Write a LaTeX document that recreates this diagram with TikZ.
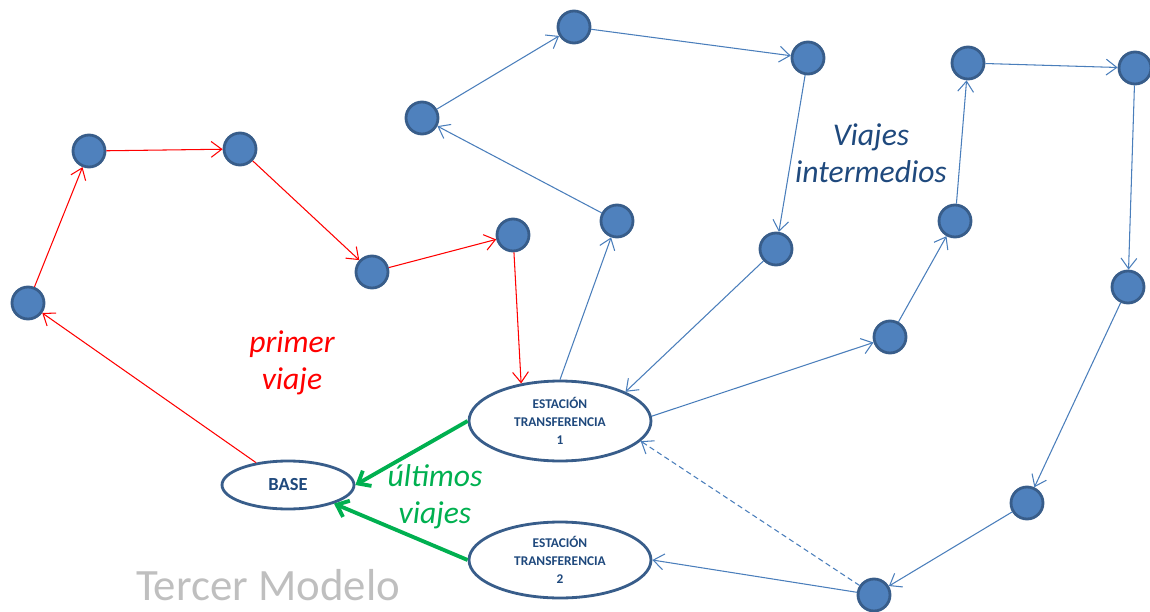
\documentclass[tikz,border=0pt]{standalone}
\usepackage{fontspec}
\setmainfont{Carlito}
\usepackage{xcolor}
\usepackage{tikz}
\usetikzlibrary{arrows.meta, shapes.geometric}
\definecolor{nodoazul}{RGB}{79,129,189}
\definecolor{bordeazul}{RGB}{56,93,138}
\definecolor{lineaazul}{RGB}{74,126,187}
\definecolor{textoazul}{RGB}{31,73,125}
\definecolor{verdeflecha}{RGB}{0,176,80}
\tikzset{
  parada/.style={circle, draw=bordeazul, fill=nodoazul, line width=1.6pt, minimum size=0.64cm, inner sep=0pt},
  estacion/.style={ellipse, draw=bordeazul, fill=white, line width=1.6pt, inner sep=0pt, text=textoazul,
    font=\fontsize{7.6}{10.2}\selectfont\bfseries, align=center},
  rojo/.style={draw=red, line width=0.6pt, -{Straight Barb[length=6pt,width=9pt]}},
  azul/.style={draw=lineaazul, line width=0.6pt, -{Straight Barb[length=6pt,width=9pt]}},
  verde/.style={draw=verdeflecha, line width=2.2pt, -{Straight Barb[length=6pt,width=10pt]}},
  rotulo/.style={font=\fontsize{18}{21}\selectfont\itshape, align=center}
}

\begin{document}
\begin{tikzpicture}[x=0.02cm, y=-0.02cm]
    \useasboundingbox (0,0) rectangle (1150,612);

    \node[estacion, minimum width=2.64cm, minimum height=0.96cm, font=\fontsize{10.5}{12}\selectfont\bfseries] (base) at (288, 485) {BASE};
    \node[estacion, minimum width=3.64cm, minimum height=1.6cm] (et1) at (560, 421) {ESTACIÓN\\TRANSFERENCIA\\1};
    \node[estacion, minimum width=3.64cm, minimum height=1.52cm] (et2) at (560, 560) {ESTACIÓN\\TRANSFERENCIA\\2};

    % primer viaje
    \node[parada] (r1) at (28, 303) {};
    \node[parada] (r2) at (89, 151) {};
    \node[parada] (r3) at (240, 149) {};
    \node[parada] (r4) at (372, 272) {};
    \node[parada] (r5) at (513, 235) {};

    % viajes intermedios
    \node[parada] (b1) at (422, 118) {};
    \node[parada] (b2) at (574, 27) {};
    \node[parada] (b3) at (808, 58) {};
    \node[parada] (b4) at (776, 249) {};
    \node[parada] (b5) at (617, 221) {};

    \node[parada] (a1) at (890, 337) {};
    \node[parada] (a2) at (955, 221) {};
    \node[parada] (a3) at (968, 63) {};
    \node[parada] (a4) at (1135, 68) {};
    \node[parada] (a5) at (1128, 287) {};
    \node[parada] (a6) at (1027, 503) {};
    \node[parada] (a7) at (874, 595) {};

    \node[rotulo, text=red] (lprimer) at (292, 363) {primer\\viaje};
    \node[rotulo, text=textoazul] (linter) at (871, 153) {Viajes\\intermedios};
    \node[rotulo, text=verdeflecha] (lultimos) at (435, 497) {últimos\\viajes};
    \node[font=\fontsize{25.5}{30}\selectfont, text=black!25, inner sep=0pt, anchor=base] (titulo) at (268, 600) {Tercer Modelo};

    \draw[rojo] (base) -- (r1);
    \foreach \from/\to in {r1/r2, r2/r3, r3/r4, r4/r5}
      \draw[rojo] (\from) -- (\to);
    \draw[rojo] (r5) -- (et1.136);

    \draw[azul] (et1.north) -- (b5);
    \foreach \from/\to in {b5/b1, b1/b2, b2/b3, b3/b4}
      \draw[azul] (\from) -- (\to);
    \draw[azul] (b4) -- (et1.24);

    \draw[azul] (et1.3) -- (a1);
    \foreach \from/\to in {a1/a2, a2/a3, a3/a4, a4/a5, a5/a6, a6/a7}
      \draw[azul] (\from) -- (\to);
    \draw[azul] (a7) -- (et2.east);
    \draw[azul, dashed, dash pattern=on 3pt off 2pt] (a7) -- (et1.-14);

    \draw[verde] (et1.west) -- (base.east);
    \draw[verde] (et2.west) -- (base.-22);
  \end{tikzpicture}
\end{document}
